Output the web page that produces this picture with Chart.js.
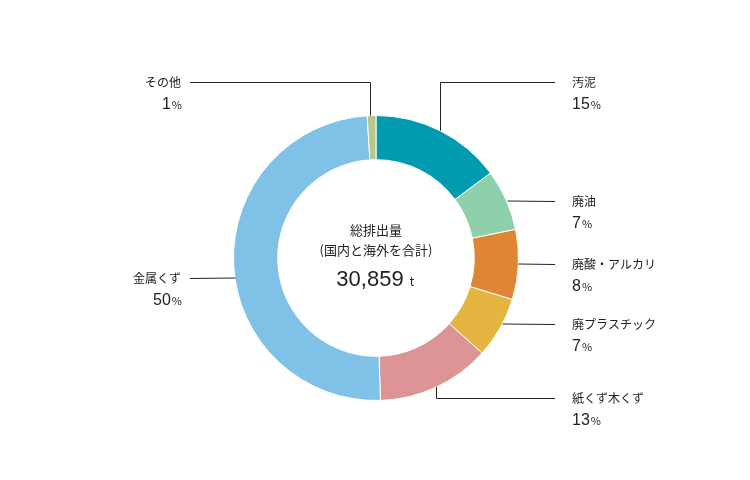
<!DOCTYPE html>
<html><head><meta charset="utf-8">
<script src="https://cdn.jsdelivr.net/npm/chart.js@4/dist/chart.umd.min.js"></script>
<style>body{margin:0;background:#fff}</style></head>
<body><canvas id="c" width="750" height="480"></canvas>
<script>
const categories=['汚泥','廃油','廃酸・アルカリ','廃プラスチック','紙くず木くず','金属くず','その他'];
const shares=[15,7,8,7,13,50,1];
const colors=['#009bb1','#8ecfac','#df8634','#e5b542','#dc9494','#80c1e8','#b6c98c'];
const totalLabel='30,859';
const F='"Noto Sans CJK JP","Noto Sans",sans-serif';
// label layout: y of leader line, side, mode
const layout=[
 {y:82,side:'r',vert:true},{y:201,side:'r'},{y:264,side:'r'},{y:324,side:'r'},
 {y:398,side:'r',vert:true},{y:278,side:'l'},{y:82,side:'l',vert:true}];
const labelsPlugin={id:'lbl',afterDraw(ch){
 const ctx=ch.ctx,arcs=ch.getDatasetMeta(0).data;
 ctx.save();ctx.strokeStyle='#222';ctx.lineWidth=1;ctx.fillStyle='#222';
 arcs.forEach((a,i)=>{
  const L=layout[i],cx=a.x,cy=a.y,R=a.outerRadius;
  const mid=(a.startAngle+a.endAngle)/2;
  let sx,sy;
  if(L.vert){sx=cx+R*Math.cos(mid);sy=cy+R*Math.sin(mid);if(i===6){sx=cx-6;sy=cy-Math.sqrt(R*R-36);} }
  else{const dy=L.y-cy;sy=L.y;sx=cx+(L.side==='r'?1:-1)*Math.sqrt(R*R-dy*dy);}
  const ex=L.side==='r'?555:190;
  ctx.beginPath();ctx.moveTo(Math.round(sx)+0.5,sy);
  if(L.vert){ctx.lineTo(Math.round(sx)+0.5,L.y+0.5);}
  ctx.lineTo(ex,L.y+0.5);ctx.stroke();
  const tx=L.side==='r'?572:181;
  ctx.textAlign=L.side==='r'?'left':'right';ctx.textBaseline='middle';
  ctx.font='12px '+F;ctx.fillText(categories[i],tx,L.y);
  ctx.font='16px "Liberation Sans",sans-serif';
  const n=String(shares[i]);ctx.textBaseline='alphabetic';
  ctx.font='10px '+F;const pw=ctx.measureText('%').width;
  ctx.font='16px "Liberation Sans",sans-serif';const nw=ctx.measureText(n).width;
  const x0=L.side==='r'?tx:tx-nw-pw-1;
  ctx.textAlign='left';ctx.fillText(n,x0,L.y+27);
  ctx.font='11px '+F;ctx.fillText('%',x0+nw+1,L.y+27);
 });
 const a=arcs[0];
 ctx.textAlign='center';ctx.textBaseline='middle';
 ctx.font='13px '+F;ctx.fillText('総排出量',a.x,a.y-28);
 ctx.fillText('(国内と海外を合計)',a.x,a.y-8);
 ctx.font='22px "Liberation Sans",sans-serif';ctx.textAlign='left';
 const w=ctx.measureText(totalLabel).width;ctx.textBaseline='alphabetic';
 ctx.fillText(totalLabel,a.x-w/2-6,a.y+28);
 ctx.font='12px '+F;ctx.fillText('t',a.x+w/2,a.y+28);
 ctx.restore();}};
new Chart(document.getElementById('c'),{type:'doughnut',
 data:{labels:categories,datasets:[{data:shares,backgroundColor:colors,borderColor:'#fff',borderWidth:1}]},
 options:{responsive:false,animation:false,cutout:'69%',
  layout:{padding:{left:233,right:231,top:115,bottom:79}},
  plugins:{legend:{display:false},tooltip:{enabled:false}}},
 plugins:[labelsPlugin]});
</script></body></html>
